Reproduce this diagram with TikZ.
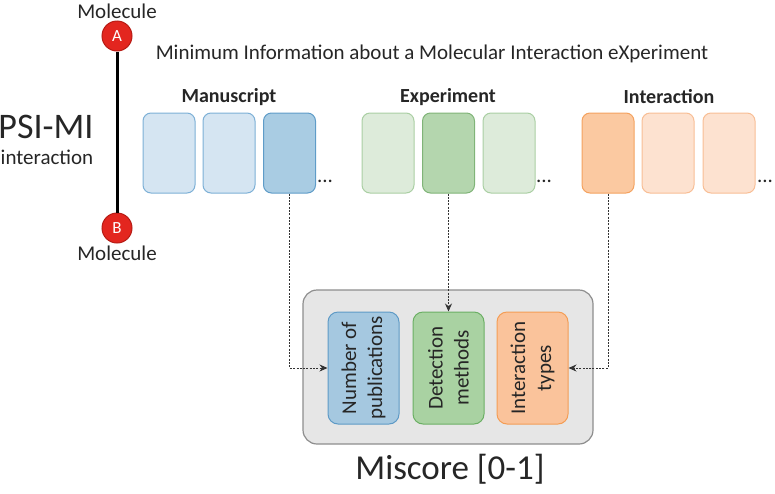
\documentclass[tikz,border=0pt]{standalone}
\usepackage{fontspec}
\setmainfont{Carlito}
\usetikzlibrary{arrows.meta}
\usetikzlibrary{positioning}

\definecolor{msLightFill}{HTML}{D5E5F2}
\definecolor{msLightDraw}{HTML}{7DB0D6}
\definecolor{msDarkFill}{HTML}{A9CCE3}
\definecolor{msDarkDraw}{HTML}{5F9CC8}
\definecolor{exLightFill}{HTML}{DDEBDA}
\definecolor{exLightDraw}{HTML}{AACFA3}
\definecolor{exDarkFill}{HTML}{B4D6AE}
\definecolor{exDarkDraw}{HTML}{80B478}
\definecolor{inLightFill}{HTML}{FDE2D0}
\definecolor{inLightDraw}{HTML}{F8BE95}
\definecolor{inDarkFill}{HTML}{FBC9A1}
\definecolor{inDarkDraw}{HTML}{F4A25F}
\definecolor{numFill}{HTML}{A5C8E0}
\definecolor{numDraw}{HTML}{5E9AC6}
\definecolor{detFill}{HTML}{A9D2A2}
\definecolor{detDraw}{HTML}{6BAF64}
\definecolor{typFill}{HTML}{FAC39B}
\definecolor{typDraw}{HTML}{F49D55}
\definecolor{scoreFill}{HTML}{E6E6E6}
\definecolor{scoreDraw}{HTML}{8E8E8E}
\definecolor{atomFill}{HTML}{E3261F}
\definecolor{atomDraw}{HTML}{B71C15}

\begin{document}
\begin{tikzpicture}[x=1pt, y=-1pt,
    every node/.style={font=\fontsize{21}{26}\selectfont, text=black!85},
    atomnode/.style={circle, fill=atomFill, draw=atomDraw, line width=1pt, minimum size=30pt, inner sep=0pt, text=white, font=\fontsize{17}{20}\selectfont},
    cardnode/.style={rectangle, rounded corners=8pt, line width=1pt, minimum width=52pt, minimum height=80pt, inner sep=0pt},
    scorenode/.style={rectangle, rounded corners=10pt, line width=1pt, minimum width=71pt, minimum height=112pt, inner sep=0pt},
    linkarrow/.style={line width=1pt, black!80, dash pattern=on 2pt off 1.3pt, -{Stealth[length=8pt, width=7pt]}}
]
    \useasboundingbox (0,0) rectangle (775,493);

    % PSI-MI interaction
    % - [Fig: two molecules]
    \node at (117,36) [atomnode](molA){A};
    \node at (117,228) [atomnode](molB){B};
    \draw [line width=3pt, black] (molA.south) -- (molB.north) ;
    \node at (117,11) (labA){Molecule};
    \node at (117,253) (labB){Molecule};
    \node at (46,127) [font=\fontsize{36}{40}\selectfont](psimi){PSI-MI};
    \node at (47,157) (psiint){interaction};

    % - [Title]
    \node at (432,54) (title){Minimum Information about a Molecular Interaction eXperiment};

    % Manuscript
    \node at (229,97) [font=\bfseries\fontsize{20}{24}\selectfont](msHead){Manuscript};
    \node at (169,153) [cardnode, fill=msLightFill, draw=msLightDraw](ms1){};
    \node at (229,153) [cardnode, fill=msLightFill, draw=msLightDraw](ms2){};
    \node at (289.5,153) [cardnode, fill=msDarkFill, draw=msDarkDraw](ms3){};
    \node at (325,181) (msDots){...};

    % Experiment
    \node at (448,97) [font=\bfseries\fontsize{20}{24}\selectfont](exHead){Experiment};
    \node at (388,153) [cardnode, fill=exLightFill, draw=exLightDraw](ex1){};
    \node at (448.5,153) [cardnode, fill=exDarkFill, draw=exDarkDraw](ex2){};
    \node at (509,153) [cardnode, fill=exLightFill, draw=exLightDraw](ex3){};
    \node at (544,181) (exDots){...};

    % Interaction
    \node at (669,97) [font=\bfseries\fontsize{20}{24}\selectfont](inHead){Interaction};
    \node at (608,153) [cardnode, fill=inDarkFill, draw=inDarkDraw](in1){};
    \node at (668,153) [cardnode, fill=inLightFill, draw=inLightDraw](in2){};
    \node at (729,153) [cardnode, fill=inLightFill, draw=inLightDraw](in3){};
    \node at (765,181) (inDots){...};

    % Miscore
    % - [Fig: score box]
    \node at (448,367) [rectangle, rounded corners=14pt, line width=1.2pt, fill=scoreFill, draw=scoreDraw, minimum width=290pt, minimum height=154pt](score){};
    \node at (363.5,368) [scorenode, fill=numFill, draw=numDraw](numpub){};
    \node at (448.5,368) [scorenode, fill=detFill, draw=detDraw](detect){};
    \node at (532.5,368) [scorenode, fill=typFill, draw=typDraw](inttype){};
    % -- The texts of the score boxes
    \node at (numpub) [rotate=90, align=center](numpubText){Number of\\publications};
    \node at (detect) [rotate=90, align=center](detectText){Detection\\methods};
    \node at (inttype) [rotate=90, align=center](inttypeText){Interaction\\types};
    \node at (450,469) [font=\fontsize{35}{40}\selectfont](scoreText){Miscore [0-1]};

    % -- The links
    \draw [linkarrow] (ms3.south) |- (numpub.west) ;
    \draw [linkarrow] (ex2.south) -- (detect.north) ;
    \draw [linkarrow] (in1.south) |- (inttype.east) ;

\end{tikzpicture}
\end{document}
